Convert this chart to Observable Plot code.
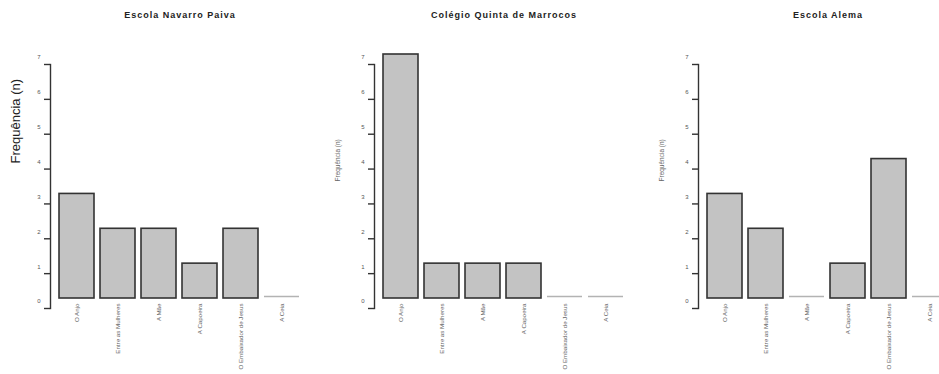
<!DOCTYPE html>
<html>
<head>
<meta charset="utf-8">
<script src="https://cdn.jsdelivr.net/npm/d3@7"></script>
<script src="https://cdn.jsdelivr.net/npm/@observablehq/plot@0.6"></script>
<style>
  html, body { margin: 0; padding: 0; background: #fff; }
  #chart { position: relative; width: 939px; height: 374px; overflow: hidden; background: #fff; }
  .panel { position: absolute; top: 0; }
  .title {
    position: absolute; top: 10px; transform: translateX(-50%); white-space: nowrap;
    font: bold 9px/11px "Liberation Sans", Arial, sans-serif; letter-spacing: 1px; color: #222;
  }
</style>
</head>
<body>
<div id="chart"></div>
<script>
// Books read, by school
const categories = ["O Anjo", "Entre as Mulheres", "A Mãe", "A Capoeira", "O Embaixador de Jesus", "A Ceia"];
const schools = ["Escola Navarro Paiva", "Colégio Quinta de Marrocos", "Escola Alema"];
const navarroPaiva = [3, 2, 2, 1, 2, 0];
const quintaMarrocos = [7, 1, 1, 1, 0, 0];
const escolaAlema = [3, 2, 0, 1, 4, 0];
const yTicks = [0, 1, 2, 3, 4, 5, 6, 7];
const yLabel = "Frequência (n)";

const seriesBySchool = [navarroPaiva, quintaMarrocos, escolaAlema];
const panelWidth = 324, panelHeight = 374;
const chart = document.getElementById("chart");

function panel(values, bigLabel) {
  const data = categories.map((category, i) => ({category, value: values[i]}));
  const nonZero = data.filter(d => d.value > 0);
  const zero = data.filter(d => d.value === 0);
  return Plot.plot({
    width: panelWidth,
    height: panelHeight,
    marginLeft: 58,
    marginRight: 23,
    marginTop: 54,
    marginBottom: 76,
    style: {fontFamily: "'Liberation Sans', Arial, sans-serif", background: "transparent"},
    x: {domain: categories, paddingInner: 0.145, paddingOuter: 0, axis: null},
    y: {domain: [0, 7], axis: null},
    marks: [
      // axis line and ticks, set slightly below the bars as in base R graphics
      Plot.frame({anchor: "left", dx: -8, dy: 10, stroke: "#333", strokeWidth: 1.4}),
      Plot.axisY(yTicks, {tickSize: 6, dx: -8, dy: 10, tickFormat: () => "", stroke: "#333", strokeWidth: 1.4, label: null}),
      Plot.axisY(yTicks, {tickSize: 0, tickPadding: 18, dy: 3, fontSize: 6, fill: "#555", label: null}),
      Plot.axisX({tickRotate: -90, tickSize: 0, tickPadding: 5, fontSize: 6.2, fill: "#666", label: null}),
      Plot.barY(nonZero, {x: "category", y: "value", fill: "#c3c3c3", stroke: "#333", strokeWidth: 1.6}),
      Plot.tickY(zero, {x: "category", y: "value", stroke: "#b3b3b3", strokeWidth: 1.6, dy: -2}),
      Plot.text([yLabel], {
        frameAnchor: "left", rotate: -90,
        dx: bigLabel ? -43 : -45, dy: bigLabel ? -13 : 5,
        fontSize: bigLabel ? 13 : 6.5,
        fontFamily: bigLabel ? "'Liberation Sans Narrow', 'Liberation Sans', Arial, sans-serif" : undefined,
        fill: bigLabel ? "#222" : "#666"
      })
    ]
  });
}

schools.forEach((school, i) => {
  const left = i * panelWidth;
  const svg = panel(seriesBySchool[i], i === 0);
  svg.classList.add("panel");
  svg.style.left = left + "px";
  chart.appendChild(svg);
  const t = document.createElement("div");
  t.className = "title";
  t.textContent = school;
  t.style.left = (left + 180) + "px";
  chart.appendChild(t);
});
</script>
</body>
</html>
